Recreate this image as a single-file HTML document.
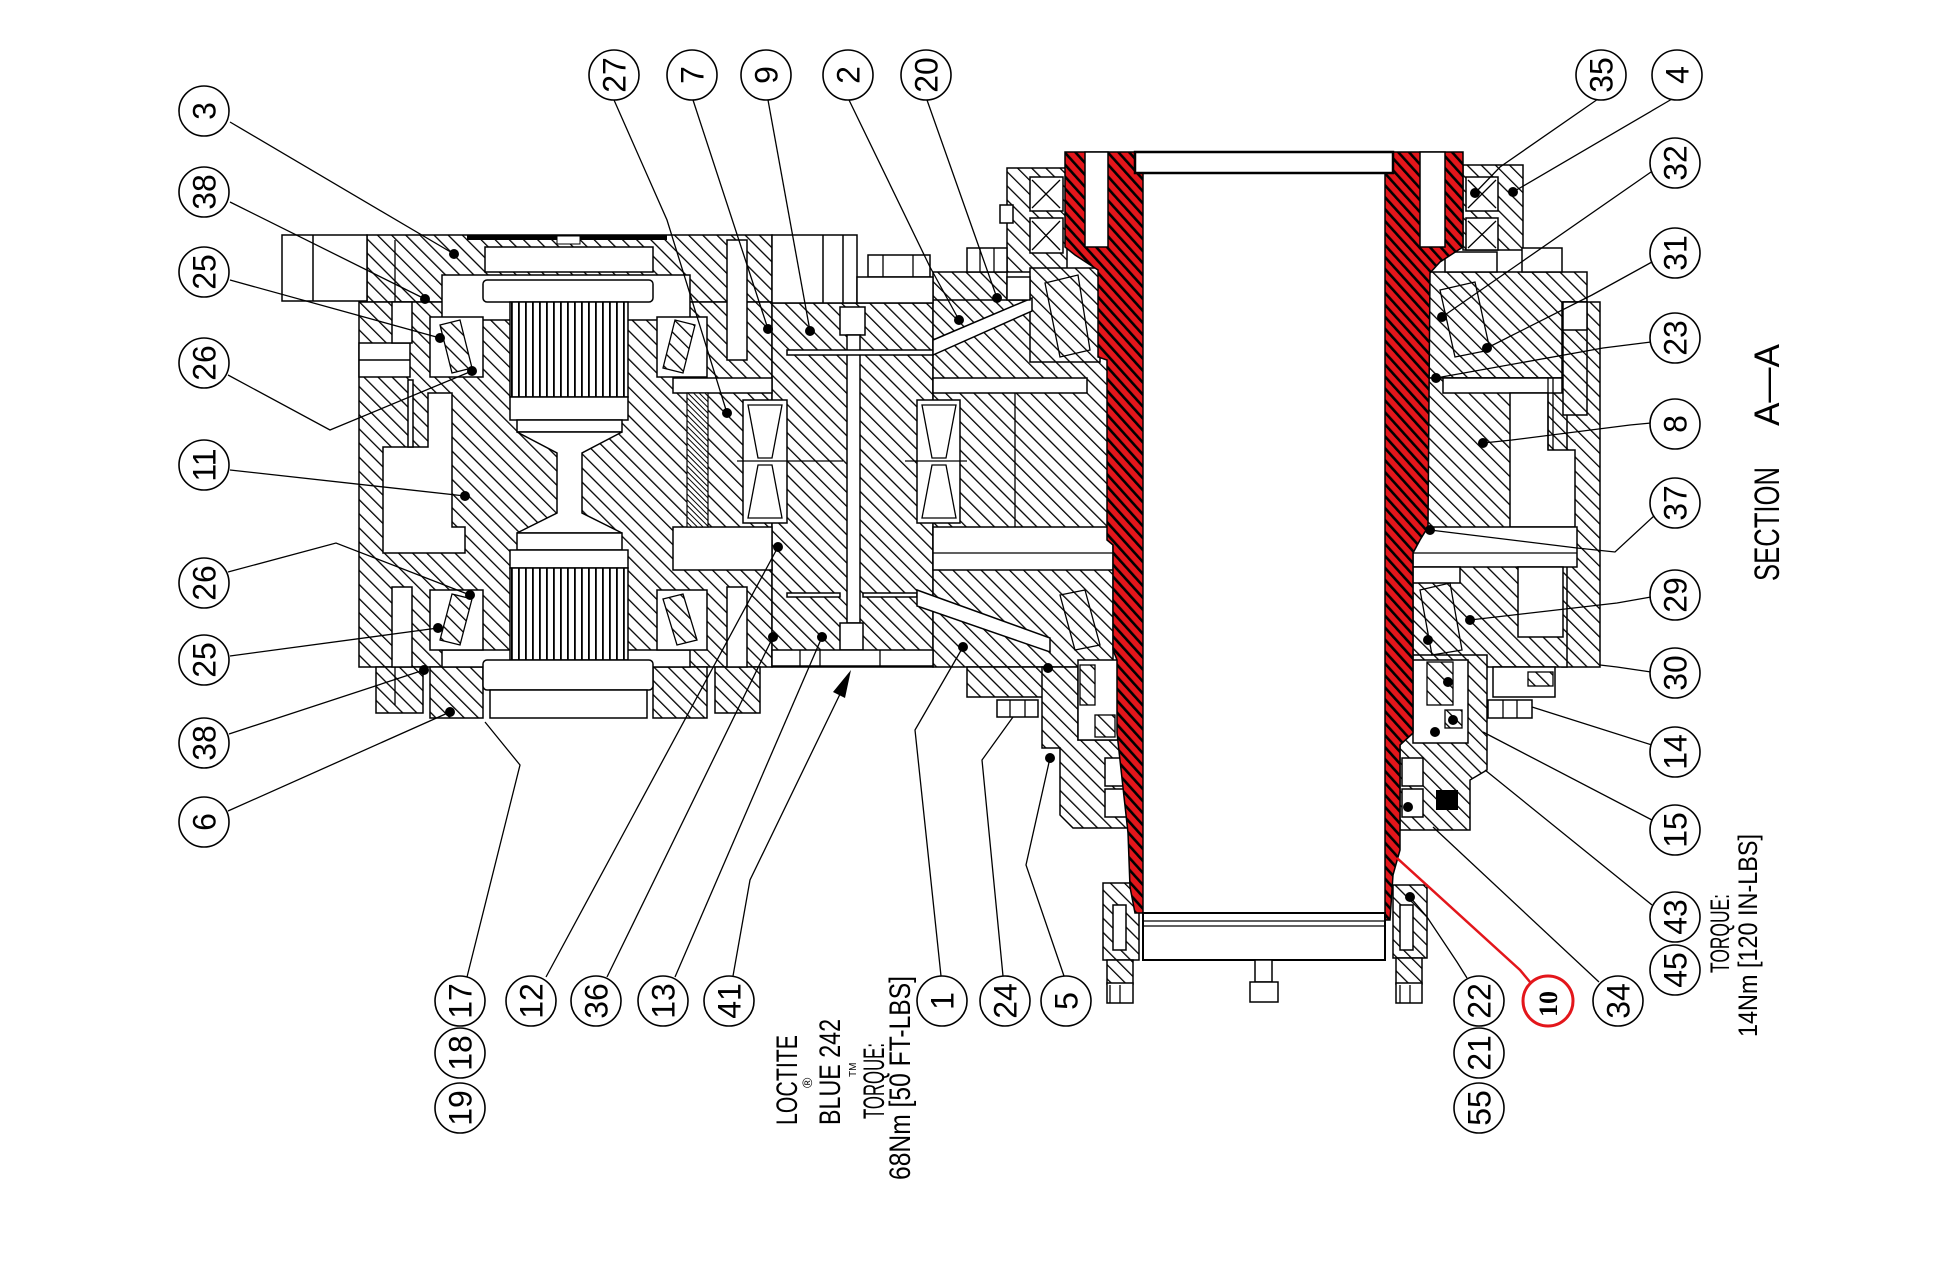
<!DOCTYPE html>
<html><head><meta charset="utf-8">
<style>html,body{margin:0;padding:0;background:#fff}svg{display:block}
text{font-family:"Liberation Sans",sans-serif;fill:#000}</style></head>
<body>
<svg width="1952" height="1284" viewBox="0 0 1952 1284" xmlns="http://www.w3.org/2000/svg">
<defs>
<pattern id="h" patternUnits="userSpaceOnUse" width="10" height="10" patternTransform="rotate(-45)"><rect width="10" height="10" fill="#fff"/><rect x="0" y="0" width="1.3" height="10" fill="#000"/></pattern>
<pattern id="hd" patternUnits="userSpaceOnUse" width="4" height="4" patternTransform="rotate(-45)"><rect width="4" height="4" fill="#fff"/><rect width="1" height="4" fill="#000"/></pattern>
<pattern id="r" patternUnits="userSpaceOnUse" width="8" height="8" patternTransform="rotate(-42)"><rect width="8" height="8" fill="#e3161b"/><rect width="2.6" height="8" fill="#000"/></pattern>
<pattern id="v" patternUnits="userSpaceOnUse" width="7" height="10"><rect width="7" height="10" fill="#fff"/><rect width="1.8" height="10" fill="#000"/></pattern>
</defs>
<rect width="1952" height="1284" fill="#fff"/>

<g fill="url(#h)" stroke="#000" stroke-width="1.5">
 <rect x="367" y="235" width="405" height="67"/>
 <rect x="359" y="302" width="413" height="365"/>
 <rect x="376" y="667" width="47" height="46"/>
 <rect x="430" y="667" width="53" height="51"/>
 <rect x="653" y="667" width="54" height="51"/>
 <rect x="715" y="667" width="45" height="46"/>
 <rect x="772" y="303" width="161" height="364"/>
 <rect x="933" y="272" width="74" height="31"/>
 <rect x="933" y="300" width="180" height="367"/>
 <rect x="1007" y="168" width="60" height="104"/>
 <rect x="1030" y="268" width="70" height="94"/>
 <rect x="1463" y="165" width="60" height="85"/>
 <rect x="1428" y="272" width="159" height="106"/>
 <rect x="1562" y="302" width="38" height="365"/>
 <rect x="1413" y="378" width="154" height="289"/>
 <rect x="967" y="667" width="86" height="30"/>
 <polygon points="1042,667 1078,667 1078,740 1128,740 1128,828 1073,828 1060,815 1060,748 1042,748"/>
 <polygon points="1413,655 1487,655 1487,770 1470,780 1470,830 1400,830 1400,745 1413,733"/>
 <rect x="1103" y="883" width="36" height="77"/>
 <rect x="1107" y="960" width="26" height="24"/>
 <rect x="1393" y="885" width="34" height="73"/>
 <rect x="1396" y="958" width="26" height="26"/>
 <rect x="1563" y="302" width="24" height="113"/>
</g>

<g fill="#fff" stroke="#000" stroke-width="1.5">
 <rect x="282" y="235" width="85" height="66"/>
 <line x1="313" y1="235" x2="313" y2="301"/>
 <rect x="772" y="235" width="85" height="68"/>
 <line x1="823" y1="235" x2="823" y2="303"/><line x1="843" y1="235" x2="843" y2="303"/>
 <rect x="485" y="247" width="168" height="25"/>
 <rect x="442" y="275" width="248" height="45"/>
 <rect x="483" y="280" width="170" height="22" rx="4"/>
 <rect x="510" y="302" width="118" height="95" fill="url(#v)"/>
 <rect x="510" y="397" width="118" height="23"/>
 <rect x="517" y="420" width="105" height="12"/>
 <polygon points="517,432 622,432 582,453 582,513 622,533 517,533 557,513 557,453"/>
 <rect x="517" y="533" width="105" height="17"/>
 <rect x="510" y="550" width="118" height="18"/>
 <rect x="442" y="650" width="248" height="17"/>
 <rect x="510" y="568" width="118" height="92" fill="url(#v)"/>
 <rect x="483" y="660" width="170" height="30" rx="4"/>
 <rect x="490" y="690" width="157" height="28"/>
 <rect x="430" y="317" width="53" height="60"/>
 <rect x="657" y="317" width="50" height="60"/>
 <rect x="430" y="590" width="53" height="60"/>
 <rect x="657" y="590" width="50" height="60"/>
 <polygon points="383,447 428,447 428,393 452,393 452,527 465,527 465,553 383,553"/>
 <rect x="408" y="380" width="5" height="67"/>
 <rect x="359" y="343" width="51" height="34"/>
 <line x1="359" y1="360" x2="410" y2="360"/>
 <rect x="392" y="302" width="20" height="41"/>
 <rect x="392" y="587" width="20" height="80"/>
 <rect x="727" y="240" width="20" height="120"/>
 <rect x="727" y="587" width="20" height="80"/>
 <rect x="673" y="378" width="99" height="15"/>
 <rect x="673" y="527" width="99" height="43"/>
 <rect x="840" y="307" width="25" height="28"/>
 <rect x="847" y="335" width="13" height="288"/>
 <rect x="840" y="623" width="23" height="27"/>
 <rect x="787" y="350" width="146" height="5"/>
 <rect x="772" y="650" width="161" height="16"/>
 <rect x="743" y="400" width="44" height="123"/>
 <rect x="917" y="400" width="43" height="123"/>
 <rect x="787" y="593" width="53" height="4"/>
 <rect x="863" y="593" width="54" height="4"/>
 <polygon points="933,340 1032,298 1032,311 933,355"/>
 <rect x="933" y="378" width="154" height="15"/>
 <rect x="933" y="527" width="180" height="43"/>
 <polygon points="917,590 1050,638 1050,652 917,606"/>
 <rect x="868" y="255" width="62" height="22"/>
 <rect x="857" y="277" width="76" height="26"/>
 <rect x="967" y="248" width="40" height="24"/>
 <rect x="1007" y="277" width="23" height="23"/>
 <rect x="1030" y="177" width="33" height="34"/>
 <rect x="1030" y="218" width="33" height="35"/>
 <rect x="1000" y="205" width="13" height="18"/>
 <rect x="1466" y="177" width="32" height="34"/>
 <rect x="1466" y="218" width="32" height="32"/>
 <rect x="1522" y="248" width="40" height="24"/>
 <rect x="1445" y="252" width="52" height="20"/>
 <rect x="1443" y="378" width="119" height="15"/>
 <polygon points="1510,393 1548,393 1548,450 1575,450 1575,527 1510,527"/>
 <rect x="1563" y="302" width="24" height="28"/>
 <rect x="1413" y="527" width="164" height="40"/>
 <rect x="1518" y="567" width="45" height="70"/>
 <rect x="1413" y="567" width="47" height="16"/>
 <rect x="1413" y="660" width="55" height="83"/>
 <rect x="1402" y="758" width="21" height="28"/>
 <rect x="1402" y="789" width="21" height="28"/>
 <rect x="1493" y="667" width="62" height="30"/>
 <rect x="1488" y="700" width="44" height="18"/>
 <rect x="1078" y="660" width="40" height="80"/>
 <rect x="1105" y="758" width="22" height="28"/>
 <rect x="1105" y="789" width="22" height="28"/>
 <rect x="997" y="700" width="41" height="17"/>
 <rect x="1113" y="905" width="13" height="45"/>
 <rect x="1400" y="905" width="13" height="45"/>
 <rect x="1107" y="983" width="26" height="20"/>
 <rect x="1396" y="983" width="26" height="20"/>
</g>

<g fill="url(#h)" stroke="#000" stroke-width="1.3">
 <polygon points="440,325 460,320 472,368 452,373"/>
 <polygon points="695,325 675,320 663,368 683,373"/>
 <polygon points="452,594 472,599 460,645 440,640"/>
 <polygon points="663,599 683,594 697,640 677,645"/>
 <polygon points="1045,283 1078,275 1090,350 1060,357"/>
 <polygon points="1440,290 1475,282 1490,350 1455,357"/>
 <polygon points="1420,590 1450,583 1462,650 1432,655"/>
 <polygon points="1060,595 1085,590 1100,645 1075,650"/>
 <rect x="1427" y="662" width="26" height="43"/>
 <rect x="1445" y="710" width="17" height="18"/>
 <rect x="1080" y="665" width="15" height="40"/>
 <rect x="1095" y="715" width="20" height="22"/>
 <rect x="1528" y="672" width="25" height="14"/>
</g>
<rect x="687" y="393" width="21" height="134" fill="url(#hd)" stroke="#000" stroke-width="1.2"/>
<rect x="1436" y="790" width="22" height="20" fill="#000"/>

<g stroke="#000" stroke-width="1.3" fill="none">
 <polygon points="748,405 782,405 772,458 758,458"/><polygon points="758,465 772,465 782,518 748,518"/>
 <polygon points="922,405 956,405 946,458 932,458"/><polygon points="932,465 946,465 956,518 922,518"/>
 <line x1="737" y1="461" x2="843" y2="461"/><line x1="905" y1="461" x2="967" y2="461"/>
 <line x1="1015" y1="393" x2="1015" y2="527"/>
 <line x1="933" y1="553" x2="1113" y2="553"/>
 <line x1="1413" y1="553" x2="1577" y2="553"/>
 <line x1="883" y1="255" x2="883" y2="277"/><line x1="913" y1="255" x2="913" y2="277"/>
 <line x1="980" y1="248" x2="980" y2="272"/><line x1="994" y1="248" x2="994" y2="272"/>
 <line x1="1503" y1="700" x2="1503" y2="718"/><line x1="1517" y1="700" x2="1517" y2="718"/>
 <line x1="1010" y1="700" x2="1010" y2="717"/><line x1="1025" y1="700" x2="1025" y2="717"/>
 <path d="M1032,180 L1060,208 M1060,180 L1032,208 M1032,221 L1060,250 M1060,221 L1032,250"/>
 <path d="M1468,180 L1496,208 M1496,180 L1468,208 M1468,221 L1496,248 M1496,221 L1468,248"/>
 <line x1="1548" y1="378" x2="1548" y2="450"/><line x1="1553" y1="378" x2="1553" y2="450"/>
 <line x1="395" y1="240" x2="395" y2="302"/><line x1="395" y1="667" x2="395" y2="705"/>
 <line x1="800" y1="650" x2="800" y2="666"/><line x1="820" y1="650" x2="820" y2="666"/><line x1="880" y1="650" x2="880" y2="666"/>
 <line x1="1110" y1="985" x2="1110" y2="1003"/><line x1="1120" y1="985" x2="1120" y2="1003"/>
 <line x1="1400" y1="985" x2="1400" y2="1003"/><line x1="1410" y1="985" x2="1410" y2="1003"/>
</g>
<rect x="467" y="235" width="200" height="5" fill="#000"/>
<rect x="557" y="236" width="23" height="8" fill="#fff" stroke="#000" stroke-width="1"/>

<g fill="url(#r)" stroke="#000" stroke-width="1.5">
 <polygon points="1065,152 1135,152 1135,173 1143,173 1143,913 1135,913 1130,887 1128,833 1117,733 1117,660 1113,650 1113,545 1107,540 1107,360 1098,357 1098,270 1075,255 1065,247"/>
 <polygon points="1393,152 1463,152 1463,247 1440,262 1430,273 1428,527 1420,540 1413,553 1413,733 1400,745 1400,850 1393,875 1390,920 1385,920 1385,173 1393,173"/>
</g>
<g fill="#fff" stroke="#000" stroke-width="1.5">
 <rect x="1085" y="152" width="23" height="95"/>
 <rect x="1420" y="152" width="25" height="95"/>
 <rect x="1135" y="152" width="258" height="21" stroke-width="2.5"/>
 <rect x="1143" y="913" width="242" height="47" stroke-width="2"/>
 <rect x="1255" y="960" width="17" height="22"/>
 <rect x="1250" y="982" width="28" height="20"/>
</g>
<line x1="1143" y1="921" x2="1385" y2="921" stroke="#000" stroke-width="1.3"/>
<line x1="1143" y1="926" x2="1385" y2="926" stroke="#000" stroke-width="1.3"/>

<g stroke="#000" stroke-width="1.3" fill="none">
 <polyline points="230,122 454,254"/>
 <polyline points="230,202 425,299"/>
 <polyline points="230,280 440,338"/>
 <polyline points="228,375 330,430 472,371"/>
 <polyline points="230,470 465,496"/>
 <polyline points="228,572 336,543 470,595"/>
 <polyline points="230,656 438,628"/>
 <polyline points="229,734 424,670"/>
 <polyline points="228,811 450,712"/>
 <polyline points="614,100 667,220 727,413"/>
 <polyline points="693,100 768,329"/>
 <polyline points="768,100 810,331"/>
 <polyline points="849,100 930,267 959,320"/>
 <polyline points="927,100 980,250 997,298"/>
 <polyline points="1598,99 1500,167 1475,193"/>
 <polyline points="1672,99 1513,192"/>
 <polyline points="1651,172 1520,263 1442,317"/>
 <polyline points="1652,262 1592,295 1487,348"/>
 <polyline points="1651,342 1603,348 1436,378"/>
 <polyline points="1651,423 1630,425 1512,440 1483,443"/>
 <polyline points="1655,515 1615,552 1577,548 1430,530"/>
 <polyline points="1651,597 1617,603 1470,620"/>
 <polyline points="1651,672 1617,667 1600,665"/>
 <polyline points="1652,745 1532,707"/>
 <polyline points="1652,820 1483,732"/>
 <polyline points="1652,905 1485,770"/>
 <polyline points="1599,982 1433,827"/>
 <polyline points="1467,978 1457,962 1427,917 1410,897"/>
 <polyline points="467,977 520,765 485,722"/>
 <polyline points="546,977 778,547"/>
 <polyline points="607,977 773,637"/>
 <polyline points="675,977 822,637"/>
 <polyline points="733,976 750,880 842,690"/>
 <polyline points="941,976 915,730 963,647"/>
 <polyline points="1003,976 982,760 1013,717"/>
 <polyline points="1064,976 1026,865 1050,758"/>
</g>
<polygon points="851,670 833,692 845,698" fill="#000"/>
<polyline points="1530,982 1520,970 1397,858" stroke="#e3161b" stroke-width="2.5" fill="none"/>

<g fill="#000">
 <circle cx="454" cy="254" r="5"/><circle cx="425" cy="299" r="5"/><circle cx="440" cy="338" r="5"/>
 <circle cx="472" cy="371" r="5"/><circle cx="465" cy="496" r="5"/><circle cx="470" cy="595" r="5"/>
 <circle cx="438" cy="628" r="5"/><circle cx="424" cy="670" r="5"/><circle cx="450" cy="712" r="5"/>
 <circle cx="727" cy="413" r="5"/><circle cx="768" cy="329" r="5"/><circle cx="810" cy="331" r="5"/>
 <circle cx="959" cy="320" r="5"/><circle cx="997" cy="298" r="5"/>
 <circle cx="1475" cy="193" r="5"/><circle cx="1513" cy="192" r="5"/><circle cx="1442" cy="317" r="5"/>
 <circle cx="1487" cy="348" r="5"/><circle cx="1436" cy="378" r="5"/><circle cx="1483" cy="443" r="5"/>
 <circle cx="1430" cy="530" r="5"/><circle cx="1470" cy="620" r="5"/><circle cx="1428" cy="640" r="5"/>
 <circle cx="1448" cy="682" r="5"/><circle cx="1453" cy="720" r="5"/><circle cx="1435" cy="732" r="5"/>
 <circle cx="1408" cy="807" r="5"/><circle cx="1410" cy="897" r="5"/>
 <circle cx="778" cy="547" r="5"/><circle cx="773" cy="637" r="5"/><circle cx="822" cy="637" r="5"/>
 <circle cx="963" cy="647" r="5"/><circle cx="1048" cy="668" r="5"/><circle cx="1050" cy="758" r="5"/>
</g>

<g fill="#fff" stroke="#000" stroke-width="1.6">
 <circle cx="204" cy="111" r="25"/><circle cx="204" cy="192" r="25"/><circle cx="204" cy="272" r="25"/>
 <circle cx="204" cy="363" r="25"/><circle cx="204" cy="465" r="25"/><circle cx="204" cy="583" r="25"/>
 <circle cx="204" cy="660" r="25"/><circle cx="204" cy="743" r="25"/><circle cx="204" cy="822" r="25"/>
 <circle cx="614" cy="75" r="25"/><circle cx="692" cy="75" r="25"/><circle cx="766" cy="75" r="25"/>
 <circle cx="848" cy="75" r="25"/><circle cx="926" cy="75" r="25"/>
 <circle cx="1601" cy="75" r="25"/><circle cx="1677" cy="75" r="25"/>
 <circle cx="1675" cy="163" r="25"/><circle cx="1675" cy="253" r="25"/><circle cx="1675" cy="338" r="25"/>
 <circle cx="1675" cy="424" r="25"/><circle cx="1675" cy="503" r="25"/><circle cx="1675" cy="595" r="25"/>
 <circle cx="1675" cy="673" r="25"/><circle cx="1675" cy="752" r="25"/><circle cx="1675" cy="830" r="25"/>
 <circle cx="1675" cy="917" r="25"/><circle cx="1675" cy="970" r="25"/>
 <circle cx="460" cy="1001" r="25"/><circle cx="460" cy="1053" r="25"/><circle cx="460" cy="1108" r="25"/>
 <circle cx="531" cy="1001" r="25"/><circle cx="596" cy="1001" r="25"/><circle cx="663" cy="1001" r="25"/>
 <circle cx="729" cy="1001" r="25"/><circle cx="942" cy="1001" r="25"/><circle cx="1005" cy="1001" r="25"/>
 <circle cx="1066" cy="1001" r="25"/>
 <circle cx="1479" cy="1001" r="25"/><circle cx="1479" cy="1053" r="25"/><circle cx="1479" cy="1108" r="25"/>
 <circle cx="1618" cy="1001" r="25"/>
</g>
<circle cx="1548" cy="1001" r="25" fill="#fff" stroke="#e3161b" stroke-width="3"/>

<g font-size="32" text-anchor="middle">
 <text transform="translate(215.5,111) rotate(-90)">3</text>
 <text transform="translate(215.5,192) rotate(-90)">38</text>
 <text transform="translate(215.5,272) rotate(-90)">25</text>
 <text transform="translate(215.5,363) rotate(-90)">26</text>
 <text transform="translate(215.5,465) rotate(-90)">11</text>
 <text transform="translate(215.5,583) rotate(-90)">26</text>
 <text transform="translate(215.5,660) rotate(-90)">25</text>
 <text transform="translate(215.5,743) rotate(-90)">38</text>
 <text transform="translate(215.5,822) rotate(-90)">6</text>
 <text transform="translate(625.5,75) rotate(-90)">27</text>
 <text transform="translate(703.5,75) rotate(-90)">7</text>
 <text transform="translate(777.5,75) rotate(-90)">9</text>
 <text transform="translate(859.5,75) rotate(-90)">2</text>
 <text transform="translate(937.5,75) rotate(-90)">20</text>
 <text transform="translate(1612.5,75) rotate(-90)">35</text>
 <text transform="translate(1688.5,75) rotate(-90)">4</text>
 <text transform="translate(1686.5,163) rotate(-90)">32</text>
 <text transform="translate(1686.5,253) rotate(-90)">31</text>
 <text transform="translate(1686.5,338) rotate(-90)">23</text>
 <text transform="translate(1686.5,424) rotate(-90)">8</text>
 <text transform="translate(1686.5,503) rotate(-90)">37</text>
 <text transform="translate(1686.5,595) rotate(-90)">29</text>
 <text transform="translate(1686.5,673) rotate(-90)">30</text>
 <text transform="translate(1686.5,752) rotate(-90)">14</text>
 <text transform="translate(1686.5,830) rotate(-90)">15</text>
 <text transform="translate(1686.5,917) rotate(-90)">43</text>
 <text transform="translate(1686.5,970) rotate(-90)">45</text>
 <text transform="translate(471.5,1001) rotate(-90)">17</text>
 <text transform="translate(471.5,1053) rotate(-90)">18</text>
 <text transform="translate(471.5,1108) rotate(-90)">19</text>
 <text transform="translate(542.5,1001) rotate(-90)">12</text>
 <text transform="translate(607.5,1001) rotate(-90)">36</text>
 <text transform="translate(674.5,1001) rotate(-90)">13</text>
 <text transform="translate(740.5,1001) rotate(-90)">41</text>
 <text transform="translate(953.5,1001) rotate(-90)">1</text>
 <text transform="translate(1016.5,1001) rotate(-90)">24</text>
 <text transform="translate(1077.5,1001) rotate(-90)">5</text>
 <text transform="translate(1490.5,1001) rotate(-90)">22</text>
 <text transform="translate(1490.5,1053) rotate(-90)">21</text>
 <text transform="translate(1490.5,1108) rotate(-90)">55</text>
 <text transform="translate(1629.5,1001) rotate(-90)">34</text>
</g>
<text transform="translate(1557,1004) rotate(-90)" text-anchor="middle" font-size="26" font-weight="bold" style="font-family:'Liberation Serif',serif">10</text>

<g font-size="30">
 <text transform="translate(797,1125) rotate(-90)" textLength="90" lengthAdjust="spacingAndGlyphs">LOCTITE</text>
 <text transform="translate(840,1125) rotate(-90)" textLength="106" lengthAdjust="spacingAndGlyphs">BLUE 242</text>
 <text transform="translate(884,1119) rotate(-90)" textLength="76" lengthAdjust="spacingAndGlyphs">TORQUE:</text>
 <text transform="translate(910,1180) rotate(-90)" textLength="204" lengthAdjust="spacingAndGlyphs">68Nm [50 FT-LBS]</text>
 <text transform="translate(1729,973) rotate(-90)" font-size="27" textLength="79" lengthAdjust="spacingAndGlyphs">TORQUE:</text>
 <text transform="translate(1757,1037) rotate(-90)" font-size="27" textLength="203" lengthAdjust="spacingAndGlyphs">14Nm [120 IN-LBS]</text>
 <text transform="translate(1779,581) rotate(-90)" font-size="35" textLength="114" lengthAdjust="spacingAndGlyphs">SECTION</text>
 <text transform="translate(1779,426) rotate(-90)" font-size="35" textLength="82" lengthAdjust="spacingAndGlyphs">A—A</text>
</g>
<text transform="translate(812,1088) rotate(-90)" font-size="14">®</text>
<text transform="translate(856,1077) rotate(-90)" font-size="10">TM</text>
</svg>
</body></html>
